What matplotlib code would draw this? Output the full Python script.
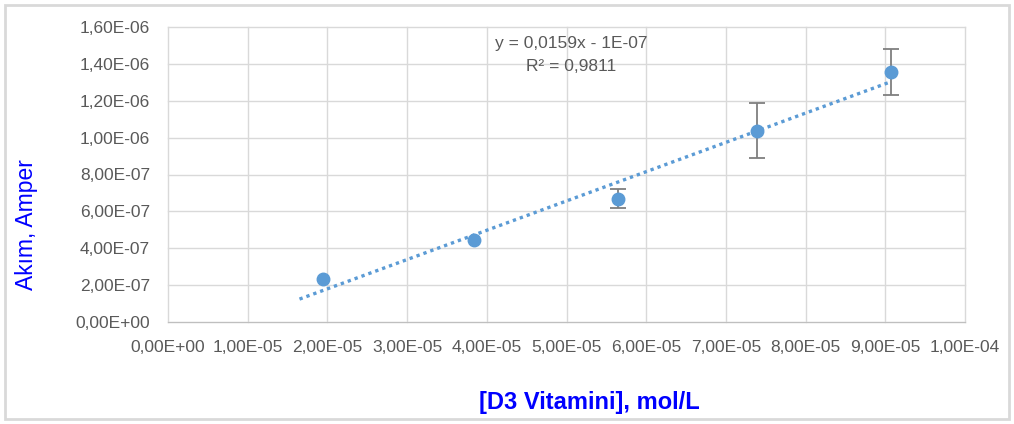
import matplotlib.pyplot as plt
import numpy as np
from matplotlib.patches import Rectangle
from matplotlib.ticker import FuncFormatter

# D3 vitamin concentration (mol/L) vs current (A)
conc = [1.95e-05, 3.84e-05, 5.65e-05, 7.39e-05, 9.07e-05]
current = [2.35e-07, 4.45e-07, 6.69e-07, 1.038e-06, 1.356e-06]
err = [0.0, 0.0, 5.2e-08, 1.5e-07, 1.26e-07]
trend_x = [1.65e-05, 9.07e-05]
equation = 'y = 0,0159x - 1E-07'
r2_text = 'R² = 0,9811'

blue = '#5B9BD5'
gray_txt = '#595959'
plt.rcParams['font.family'] = ['Liberation Sans', 'DejaVu Sans']

fig = plt.figure(figsize=(10.14, 4.24), dpi=100)
fig.patches.append(Rectangle((5 / 1014, 5 / 424), 1004 / 1014, 414 / 424,
                             transform=fig.transFigure, fill=False,
                             edgecolor='#d9d9d9', linewidth=2))
ax = fig.add_axes([168 / 1014, 1 - 322 / 424, 797 / 1014, 295 / 424])

coef = np.polyfit(conc, current, 1)
xs = np.array(trend_x)
ax.plot(xs, np.polyval(coef, xs), linestyle=(0, (1, 1.2)), color=blue,
        linewidth=2.4, zorder=2)

# error bars only where there is a visible spread
x_arr, y_arr, e_arr = np.array(conc), np.array(current), np.array(err)
m = e_arr > 0
ax.errorbar(x_arr[m], y_arr[m], yerr=e_arr[m], fmt='none', ecolor='#7f7f7f',
            elinewidth=1.3, capsize=6, capthick=1.3, zorder=3)
ax.plot(conc, current, 'o', color=blue, markersize=9, zorder=4)

ax.set_xlim(0, 1e-4)
ax.set_ylim(0, 1.6e-6)
ax.set_xticks(np.arange(0, 1.0001e-4, 1e-5))
ax.set_yticks(np.arange(0, 1.6001e-6, 2e-7))


def sci_comma(v, pos):
    s = '%.2E' % v
    if v == 0:
        s = '0.00E+00'
    return s.replace('.', ',')


ax.xaxis.set_major_formatter(FuncFormatter(sci_comma))
ax.yaxis.set_major_formatter(FuncFormatter(sci_comma))
ax.tick_params(length=0, labelsize=12.5, labelcolor=gray_txt, pad=13)
ax.grid(True, color='#d9d9d9', linewidth=1)
for gl in ax.get_xgridlines() + ax.get_ygridlines():
    gl.set_clip_on(False)
for s in ['top', 'right', 'left']:
    ax.spines[s].set_visible(False)
ax.spines['bottom'].set_color('#bfbfbf')
ax.set_axisbelow(True)

ax.text(0.5055, 0.945, equation, transform=ax.transAxes, ha='center',
        va='center', fontsize=12.5, color=gray_txt)
ax.text(0.5055, 0.866, r2_text, transform=ax.transAxes, ha='center',
        va='center', fontsize=12.5, color=gray_txt)

fig.text(27 / 1014, 1 - 225 / 424, 'Akım, Amper', rotation=90, ha='center',
         va='center', fontsize=16.5, color='#0000ff')
fig.text(589 / 1014, 1 - 403 / 424, '[D3 Vitamini], mol/L', ha='center',
         va='center', fontsize=17, fontweight='bold', color='#0000ff')

fig.savefig('out.png', dpi=100)
